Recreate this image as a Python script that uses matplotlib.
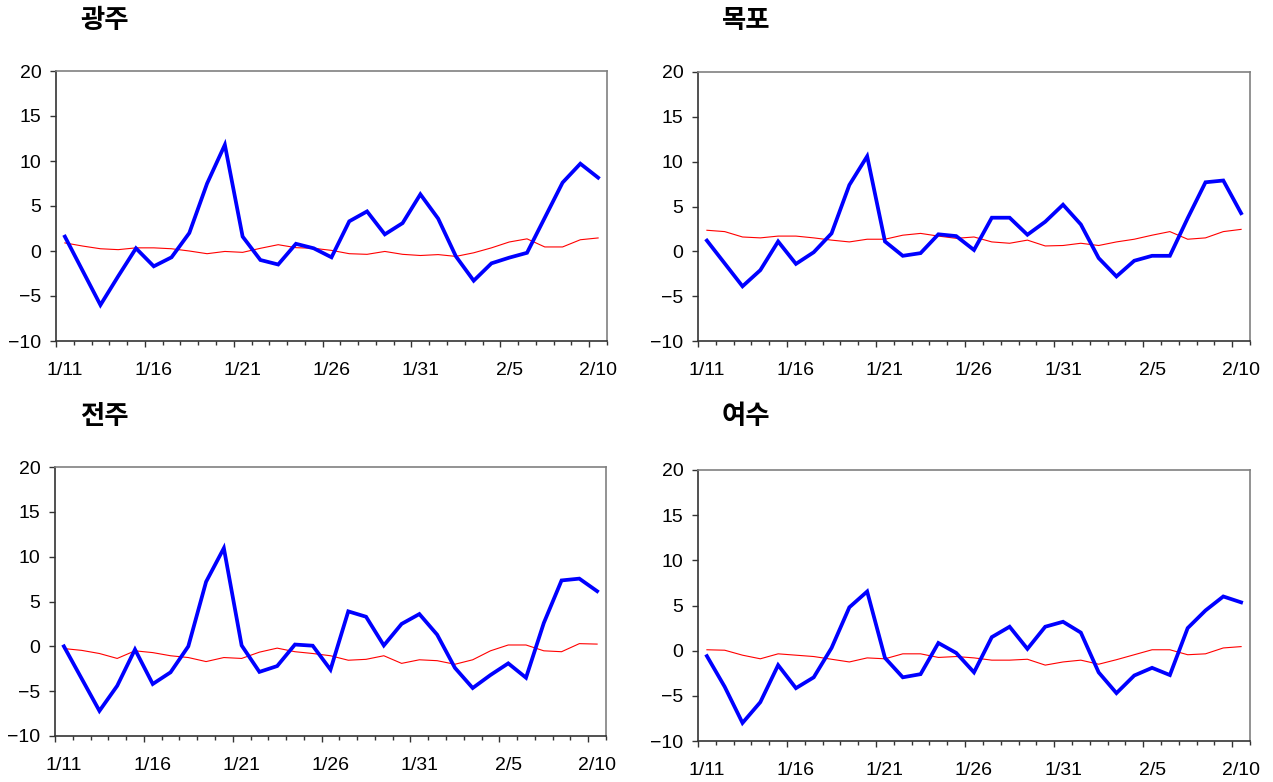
"""Four-station daily anomaly panels (1/11 - 2/10), blue = station, red = reference."""

import matplotlib
matplotlib.use("Agg")
import matplotlib.pyplot as plt
import numpy as np

# --- data -------------------------------------------------------------------
dates = ["1/11", "1/12", "1/13", "1/14", "1/15", "1/16", "1/17", "1/18",
         "1/19", "1/20", "1/21", "1/22", "1/23", "1/24", "1/25", "1/26",
         "1/27", "1/28", "1/29", "1/30", "1/31", "2/1", "2/2", "2/3",
         "2/4", "2/5", "2/6", "2/7", "2/8", "2/9", "2/10"]

stations = ["광주", "목포", "전주", "여수"]

gwangju_blue = [1.6, -2.2, -6.0, -2.8, 0.3, -1.7, -0.7, 2.0, 7.5, 11.8,
                1.6, -1.0, -1.5, 0.8, 0.3, -0.7, 3.3, 4.4, 1.85, 3.1,
                6.3, 3.6, -0.6, -3.3, -1.37, -0.74, -0.2, 3.7, 7.6, 9.7, 8.15]
gwangju_red = [0.9, 0.55, 0.25, 0.15, 0.35, 0.35, 0.25, 0.0, -0.3, -0.05,
               -0.15, 0.3, 0.7, 0.37, 0.3, 0.07, -0.3, -0.37, -0.05, -0.37,
               -0.5, -0.4, -0.6, -0.2, 0.35, 1.0, 1.35, 0.45, 0.45, 1.25, 1.45]

mokpo_blue = [1.2, -1.35, -3.9, -2.1, 1.1, -1.4, -0.1, 2.0, 7.4, 10.6,
              1.1, -0.5, -0.2, 1.9, 1.7, 0.15, 3.75, 3.75, 1.85, 3.3,
              5.2, 3.0, -0.75, -2.8, -1.05, -0.5, -0.5, 3.7, 7.7, 7.9, 4.25]
mokpo_red = [2.35, 2.2, 1.6, 1.5, 1.7, 1.7, 1.5, 1.25, 1.05, 1.35,
             1.35, 1.8, 2.0, 1.7, 1.45, 1.6, 1.05, 0.9, 1.25, 0.6,
             0.65, 0.9, 0.65, 1.05, 1.35, 1.8, 2.2, 1.35, 1.5, 2.2, 2.45]

jeonju_blue = [0.0, -3.6, -7.2, -4.4, -0.35, -4.2, -2.9, 0.0, 7.2, 10.95,
               0.1, -2.85, -2.2, 0.2, 0.07, -2.6, 3.9, 3.3, 0.1, 2.5,
               3.6, 1.3, -2.4, -4.65, -3.2, -1.9, -3.5, 2.6, 7.35, 7.55, 6.15]
jeonju_red = [-0.25, -0.45, -0.8, -1.35, -0.5, -0.7, -1.05, -1.25, -1.7, -1.25,
              -1.35, -0.65, -0.2, -0.6, -0.8, -1.05, -1.55, -1.45, -1.05, -1.9,
              -1.5, -1.6, -2.0, -1.5, -0.5, 0.15, 0.15, -0.5, -0.6, 0.3, 0.25]

yeosu_blue = [-0.6, -4.0, -8.0, -5.7, -1.6, -4.15, -2.95, 0.3, 4.8, 6.55,
              -0.8, -2.95, -2.6, 0.85, -0.25, -2.4, 1.5, 2.65, 0.2, 2.65,
              3.2, 2.0, -2.4, -4.7, -2.75, -1.9, -2.7, 2.5, 4.45, 6.0, 5.35]
yeosu_red = [0.1, 0.05, -0.5, -0.9, -0.35, -0.5, -0.65, -0.95, -1.25, -0.8,
             -0.9, -0.35, -0.35, -0.75, -0.65, -0.8, -1.05, -1.05, -0.95, -1.6,
             -1.25, -1.05, -1.5, -1.0, -0.45, 0.1, 0.1, -0.45, -0.35, 0.3, 0.45]

blue_series = [gwangju_blue, mokpo_blue, jeonju_blue, yeosu_blue]
red_series = [gwangju_red, mokpo_red, jeonju_red, yeosu_red]

# --- layout (pixel boxes in the 1273x782 canvas) -----------------------------
W, H = 1273, 782
# (left, right, top, bottom) of each plot box, and title anchor (x, y)
boxes = [(56, 607, 71, 341), (698, 1250, 72, 341),
         (55, 606, 467, 736), (698, 1250, 470, 741)]
title_xy = [(80, 20), (722, 20), (80, 417), (722, 417)]

TICK_FONT = ["Liberation Sans", "DejaVu Sans"]
KR_FONT = ["Noto Sans CJK KR", "DejaVu Sans"]


def _rect(l, r, t, b):
    return [l / W, 1 - b / H, (r - l) / W, (b - t) / H]


def draw_panel(fig, box, name, blue, red):
    ax = fig.add_axes(_rect(*box))
    x = np.arange(len(dates))
    ax.plot(x, red, color="#ff0000", lw=0.8, zorder=2)
    ax.plot(x, blue, color="#0000ff", lw=2.7, zorder=3,
            solid_joinstyle="miter")

    ax.set_xlim(-0.5, len(dates) - 0.5)
    ax.set_ylim(-10, 20)
    ax.set_yticks([-10, -5, 0, 5, 10, 15, 20])
    ax.set_yticklabels(["\u221210", "\u22125", "0", "5", "10", "15", "20"],
                       family=TICK_FONT, fontsize=14)
    ax.tick_params(axis="y", direction="out", length=4.5, width=1,
                   color="#333333", pad=6)

    # day boundaries carry the ticks; every 5th boundary a longer one
    edges = np.arange(-0.5, len(dates), 1.0)
    ax.set_xticks(edges[::5])
    ax.set_xticks([e for i, e in enumerate(edges) if i % 5], minor=True)
    ax.set_xticklabels([])
    ax.tick_params(axis="x", which="major", direction="out", length=4.5,
                   width=1, color="#333333")
    ax.tick_params(axis="x", which="minor", direction="out", length=3,
                   width=1, color="#333333")

    # date labels sit on the days themselves, without ticks
    sec = ax.secondary_xaxis("bottom")
    sec.set_xticks(x[::5])
    sec.set_xticklabels(dates[::5], family=TICK_FONT, fontsize=14)
    sec.tick_params(length=0, pad=15)
    sec.spines["bottom"].set_visible(False)

    for side in ("left", "bottom"):
        ax.spines[side].set_color("#333333")
        ax.spines[side].set_linewidth(1.2)
    for side in ("top", "right"):
        ax.spines[side].set_color("#808080")
        ax.spines[side].set_linewidth(1.2)
    return ax


fig = plt.figure(figsize=(W / 100, H / 100), dpi=100)
for box, (tx, ty), name, b, r in zip(boxes, title_xy, stations,
                                     blue_series, red_series):
    draw_panel(fig, box, name, b, r)
    fig.text(tx / W, 1 - ty / H, name, family=KR_FONT, fontsize=19,
             fontweight="bold", ha="left", va="center")

fig.savefig("out.png", dpi=100)
